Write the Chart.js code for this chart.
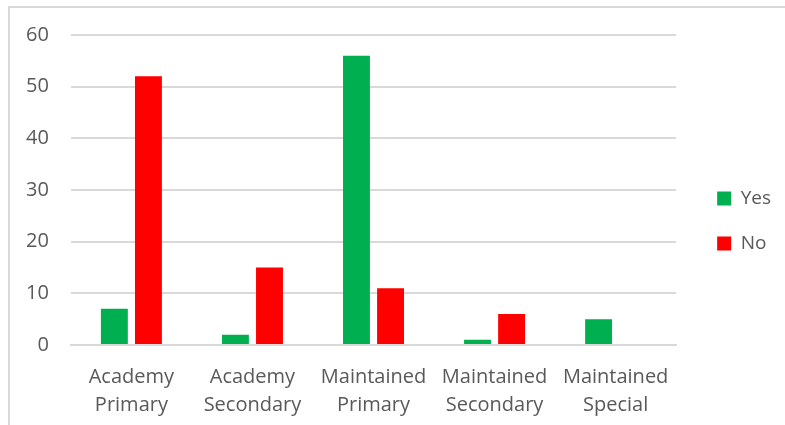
<!DOCTYPE html>
<html><head><meta charset="utf-8">
<script src="https://cdn.jsdelivr.net/npm/chart.js@4"></script>
<style>html,body{margin:0;padding:0;background:#fff}#wrap{width:785px;height:425px;position:relative}</style>
</head><body><div id="wrap"><canvas id="c" width="785" height="425"></canvas></div>
<script>
const categories = [["Academy","Primary"],["Academy","Secondary"],["Maintained","Primary"],["Maintained","Secondary"],["Maintained","Special"]];
const yesValues = [7, 2, 56, 1, 5];
const noValues = [52, 15, 11, 6, 0];
const seriesNames = ["Yes", "No"];

const frame = {
  id: 'frame',
  beforeDraw(chart) {
    const ctx = chart.ctx;
    ctx.save();
    ctx.strokeStyle = '#d9d9d9';
    ctx.lineWidth = 2;
    ctx.beginPath();
    ctx.moveTo(9, 425);
    ctx.lineTo(9, 7);
    ctx.lineTo(785, 7);
    ctx.stroke();
    ctx.restore();
  },
  afterLayout(chart) {
    if (chart.legend) { chart.legend.top -= 9; chart.legend.bottom -= 9; }
  }
};

new Chart(document.getElementById('c'), {
  type: 'bar',
  data: {
    labels: categories,
    datasets: [
      { label: seriesNames[0], data: yesValues, backgroundColor: '#00b050' },
      { label: seriesNames[1], data: noValues, backgroundColor: '#ff0000' }
    ]
  },
  options: {
    responsive: false,
    animation: false,
    devicePixelRatio: 1,
    datasets: { bar: { categoryPercentage: 0.563, barPercentage: 0.79 } },
    layout: { padding: { left: 4, top: 35, right: 4, bottom: 0 } },
    plugins: {
      legend: {
        position: 'right',
        labels: {
          usePointStyle: true, pointStyle: 'rect', boxWidth: 14, boxHeight: 14,
          color: '#595959', font: { family: 'Open Sans', size: 19 }, padding: 26
        }
      },
      tooltip: { enabled: false }
    },
    scales: {
      x: {
        grid: { display: false, drawTicks: false },
        border: { color: '#d9d9d9', width: 2 },
        ticks: { color: '#595959', font: { family: 'Open Sans', size: 20, lineHeight: 1.4 }, padding: 18, maxRotation: 0 },
        afterFit(scale) { scale.height -= 12; }
      },
      y: {
        min: 0, max: 60,
        grid: { color: '#d9d9d9', lineWidth: 2, drawTicks: false },
        border: { display: false },
        ticks: { stepSize: 10, color: '#595959', font: { family: 'Open Sans', size: 20 }, padding: 22 }
      },
      yGap: {
        position: 'right',
        display: true,
        grid: { display: false, drawTicks: false },
        border: { display: false },
        ticks: { display: false },
        afterFit(scale) { scale.width = 15; }
      }
    }
  },
  plugins: [frame]
});
</script></body></html>
